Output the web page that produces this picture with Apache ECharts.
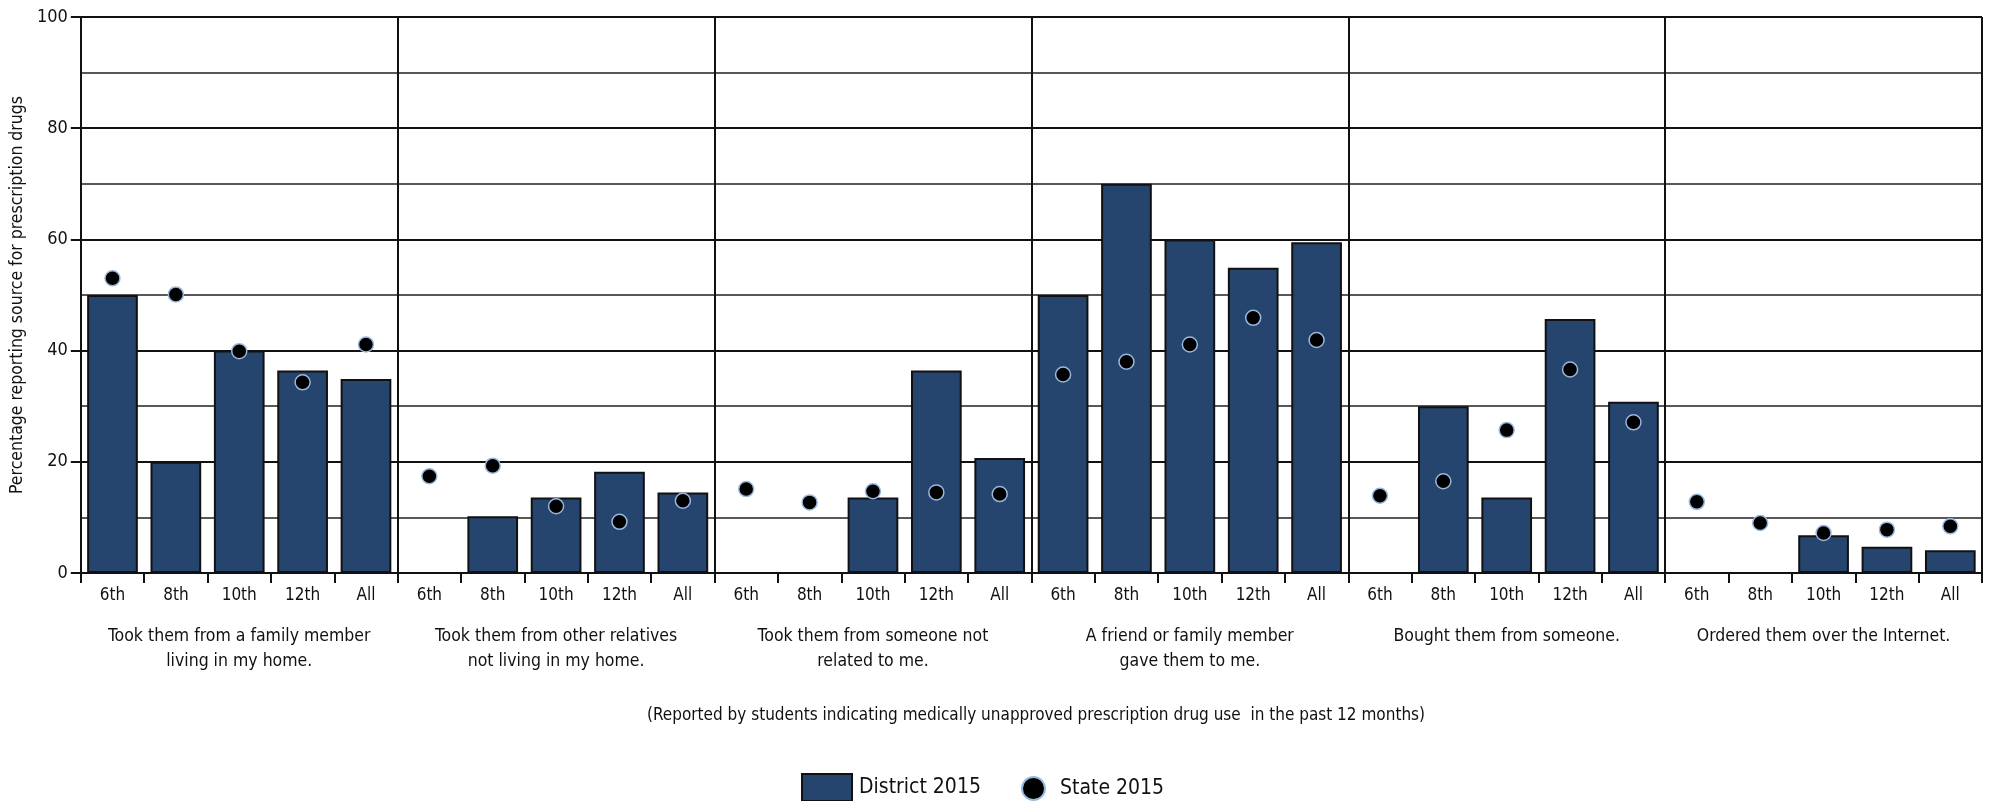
<!DOCTYPE html>
<html>
<head>
<meta charset="utf-8">
<script src="https://cdn.jsdelivr.net/npm/echarts@6/dist/echarts.min.js"></script>
<style>
html,body{margin:0;padding:0;background:#fff;}
#c{width:2001px;height:801px;}
</style>
</head>
<body>
<div id="c"></div>
<script>
// Source groups (outer categories)
var groups = [
  "Took them from a family member\nliving in my home.",
  "Took them from other relatives\nnot living in my home.",
  "Took them from someone not\nrelated to me.",
  "A friend or family member\ngave them to me.",
  "Bought them from someone.",
  "Ordered them over the Internet."
];
// Grade levels (inner categories)
var grades = ["6th", "8th", "10th", "12th", "All"];
// District 2015 (bars), group by group, null = no bar
var district2015 = [
  50, 20, 40, 36.4, 34.9,
  null, 10.2, 13.6, 18.2, 14.5,
  null, null, 13.6, 36.4, 20.7,
  50, 70, 60, 54.9, 59.5,
  null, 30, 13.6, 45.7, 30.8,
  null, null, 6.8, 4.7, 4.1
];
// State 2015 (dots)
var state2015 = [
  53.0, 50.1, 39.9, 34.3, 41.1,
  17.4, 19.3, 12.0, 9.2, 13.0,
  15.1, 12.7, 14.7, 14.5, 14.2,
  35.7, 38.0, 41.1, 45.9, 41.9,
  13.9, 16.5, 25.7, 36.6, 27.1,
  12.8, 9.0, 7.2, 7.8, 8.4
];
var yTicks = [0, 20, 40, 60, 80, 100];
var footnote = "(Reported by students indicating medically unapproved prescription drug use  in the past 12 months)";
var yTitle = "Percentage reporting source for prescription drugs";

var FONT = "'Liberation Sans Narrow','DejaVu Sans Condensed','Open Sans',sans-serif";
var categories = [];
groups.forEach(function (g, gi) {
  grades.forEach(function (gr) { categories.push(gi + "|" + gr); });
});

var chart = echarts.init(document.getElementById('c'), null, {renderer: 'canvas'});
chart.setOption({
  animation: false,
  backgroundColor: '#fff',
  textStyle: {fontFamily: FONT, color: '#111'},
  grid: {left: 75, right: 19, top: 17, bottom: 228},
  title: {
    text: footnote,
    left: 1031, top: 702, textAlign: 'center',
    textStyle: {fontFamily: FONT, fontSize: 17, fontWeight: 'normal', color: '#111'}
  },
  legend: [{
    data: [{name: 'District 2015', icon: 'rect'}],
    left: 796, top: 768,
    itemWidth: 50, itemHeight: 27, itemGap: 10,
    textStyle: {fontFamily: FONT, fontSize: 21, color: '#111', padding: [0, 0, 0, 2]}
  }, {
    data: [{name: 'State 2015', icon: 'circle'}],
    left: 1016, top: 771,
    itemWidth: 23, itemHeight: 23,
    textStyle: {fontFamily: FONT, fontSize: 21, color: '#111', padding: [0, 0, 0, 10]}
  }],
  xAxis: [{
    type: 'category',
    data: categories,
    position: 'bottom',
    axisLine: {show: true, lineStyle: {color: '#111', width: 2}},
    axisTick: {show: true, interval: 0, length: 10, lineStyle: {color: '#111', width: 2}},
    axisLabel: {
      interval: 0, margin: 14, fontSize: 17, color: '#111', fontFamily: FONT,
      formatter: function (v) { return v.split('|')[1]; }
    },
    splitLine: {show: false}
  }, {
    type: 'category',
    data: groups,
    position: 'bottom',
    axisLine: {show: false},
    axisTick: {show: false},
    axisLabel: {interval: 0, margin: 51, fontSize: 17.5, lineHeight: 25, color: '#111', fontFamily: FONT},
    splitLine: {show: true, interval: 0, lineStyle: {color: '#111', width: 2}}
  }],
  yAxis: {
    type: 'value',
    min: yTicks[0], max: yTicks[yTicks.length - 1], interval: 20,
    name: yTitle,
    nameLocation: 'middle',
    nameGap: 50,
    nameTextStyle: {fontFamily: FONT, fontSize: 17.5, color: '#111'},
    axisLine: {show: true, lineStyle: {color: '#111', width: 2}},
    axisTick: {show: true, length: 10, lineStyle: {color: '#111', width: 2}},
    axisLabel: {fontSize: 18, color: '#111', margin: 13, fontFamily: FONT},
    splitLine: {show: true, lineStyle: {color: '#111', width: 2}},
    minorTick: {show: false, splitNumber: 2},
    minorSplitLine: {show: true, lineStyle: {color: '#222', width: 1.5}}
  },
  series: [{
    name: 'District 2015',
    type: 'bar',
    xAxisIndex: 0,
    data: district2015,
    barCategoryGap: '20%',
    itemStyle: {color: '#26456e', borderColor: '#111', borderWidth: 2},
    z: 2
  }, {
    name: 'State 2015',
    type: 'scatter',
    xAxisIndex: 0,
    data: state2015,
    symbol: 'circle',
    symbolSize: 15,
    itemStyle: {color: '#000', borderColor: '#9ab8de', borderWidth: 1.5, opacity: 1},
    z: 3
  }]
});
</script>
</body>
</html>
